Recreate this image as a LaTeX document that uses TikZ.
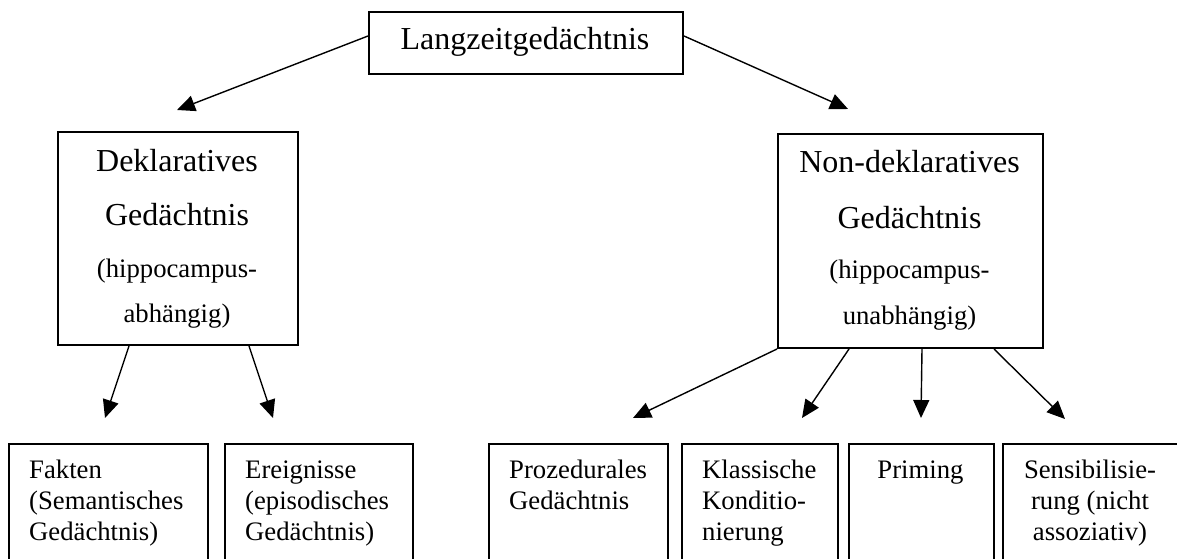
\documentclass[tikz,border=0pt]{standalone}
\usepackage{fontspec}
\setmainfont{Liberation Serif}
\usetikzlibrary{arrows.meta}
\newcommand{\bigfnt}{\fontsize{32}{38}\selectfont}
\newcommand{\smallfnt}{\fontsize{26.7}{31}\selectfont}
\begin{document}
\begin{tikzpicture}[x=1pt,y=-1pt,
  box/.style={draw,line width=2pt,inner sep=0pt,anchor=north west},
  big/.style={font=\bigfnt,inner sep=0pt},
  small/.style={font=\smallfnt,inner sep=0pt},
  arr/.style={line width=1.4pt,-{Triangle[length=18pt,width=16pt]}}]
\useasboundingbox (0,0) rectangle (1177,559);
% top box
\node[box,minimum width=314pt,minimum height=62pt] (top) at (368,11) {};
\node[big,anchor=base] (toptxt) at (525,50) {Langzeitgedächtnis};
% middle boxes
\node[box,minimum width=240pt,minimum height=213pt] (dek) at (57,131) {};
\node[big,anchor=base] (d1) at (177,171) {Deklaratives};
\node[big,anchor=base] (d2) at (177,225) {Gedächtnis};
\node[small,anchor=base] (d3) at (177,277) {(hippocampus-};
\node[small,anchor=base] (d4) at (177,322) {abhängig)};
\node[box,minimum width=265pt,minimum height=214pt] (ndek) at (777,133) {};
\node[big,anchor=base] (n1) at (909.5,172) {Non-deklaratives};
\node[big,anchor=base] (n2) at (909.5,228) {Gedächtnis};
\node[small,anchor=base] (n3) at (909.5,278) {(hippocampus-};
\node[small,anchor=base] (n4) at (909.5,324) {unabhängig)};
% bottom boxes
\node[box,minimum width=199pt,minimum height=140pt] (b1) at (8,443) {};
\node[box,minimum width=188pt,minimum height=140pt] (b2) at (224,443) {};
\node[box,minimum width=179pt,minimum height=140pt] (b3) at (488,443) {};
\node[box,minimum width=156pt,minimum height=140pt] (b4) at (681,443) {};
\node[box,minimum width=145pt,minimum height=140pt] (b5) at (848,443) {};
\node[box,minimum width=183pt,minimum height=140pt] (b6) at (1002,443) {};
\node[small,anchor=base west] (t1a) at (29,478) {Fakten};
\node[small,anchor=base west] (t1b) at (29,509) {(Semantisches};
\node[small,anchor=base west] (t1c) at (29,540) {Gedächtnis)};
\node[small,anchor=base west] (t2a) at (245,478) {Ereignisse};
\node[small,anchor=base west] (t2b) at (245,509) {(episodisches};
\node[small,anchor=base west] (t2c) at (245,540) {Gedächtnis)};
\node[small,anchor=base west] (t3a) at (509,478) {Prozedurales};
\node[small,anchor=base west] (t3b) at (509,509) {Gedächtnis};
\node[small,anchor=base west] (t4a) at (702,478) {Klassische};
\node[small,anchor=base west] (t4b) at (702,509) {Konditio-};
\node[small,anchor=base west] (t4c) at (702,540) {nierung};
\node[small,anchor=base] (t5a) at (920.5,478) {Priming};
\node[small,anchor=base] (t6a) at (1090,478) {Sensibilisie-};
\node[small,anchor=base] (t6b) at (1090,509) {rung (nicht};
\node[small,anchor=base] (t6c) at (1090,540) {assoziativ)};
% arrow tips
\coordinate (tipL) at (177,110);
\coordinate (tipR) at (848,109);
\coordinate (tip1) at (105,418);
\coordinate (tip2) at (273,418);
\coordinate (tip3) at (633,418);
\coordinate (tip4) at (802,418);
\coordinate (tip5) at (921,418);
\coordinate (tip6) at (1065,419);
% arrows
\draw[arr] ([yshift=7pt]top.west) -- (tipL);
\draw[arr] ([yshift=7pt]top.east) -- (tipR);
\draw[arr] ([xshift=-49pt]dek.south) -- (tip1);
\draw[arr] ([xshift=71pt]dek.south) -- (tip2);
\draw[arr] (ndek.south west) -- (tip3);
\draw[arr] ([xshift=-61.5pt]ndek.south) -- (tip4);
\draw[arr] ([xshift=11.5pt]ndek.south) -- (tip5);
\draw[arr] ([xshift=83.5pt]ndek.south) -- (tip6);
\end{tikzpicture}
\end{document}
